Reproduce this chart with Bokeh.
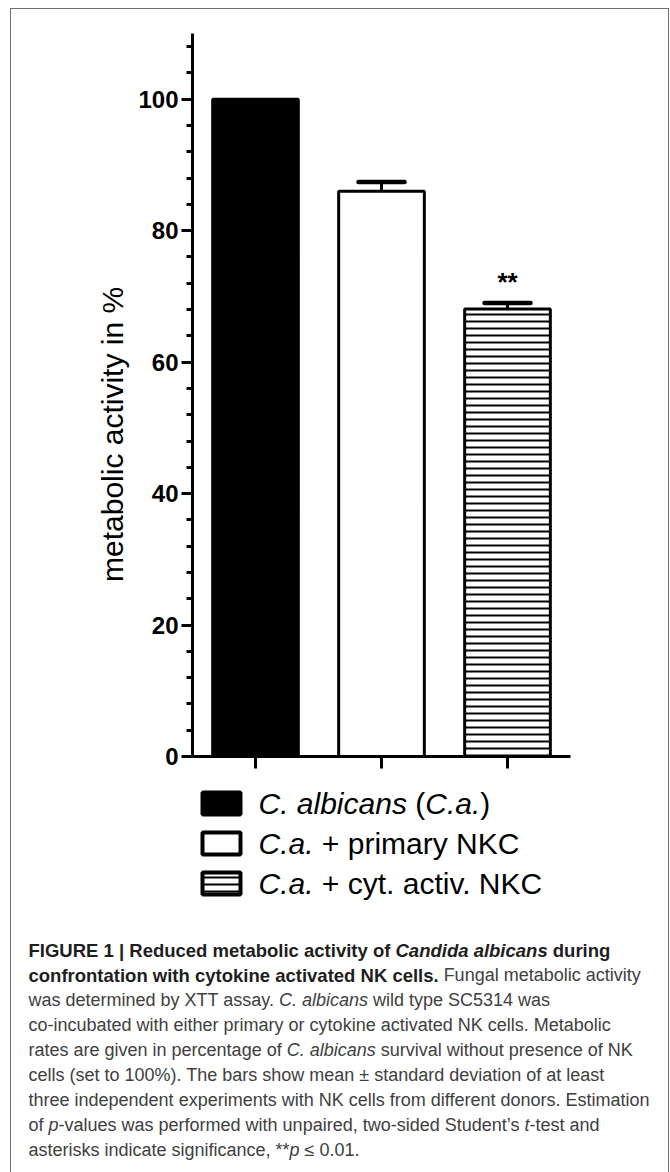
import glob
import math
import os

from bokeh.core.properties import value
from bokeh.embed import file_html
from bokeh.layouts import column, row
from bokeh.models import (ColumnDataSource, FixedTicker, Range1d,
                          SingleIntervalTicker, TeeHead, Whisker)
from bokeh.plotting import figure
from bokeh.resources import INLINE

# ---------------- data ----------------
categories = ["C. albicans (C.a.)", "C.a. + primary NKC", "C.a. + cyt. activ. NKC"]
means = [100.0, 86.0, 68.1]
sds = [0.0, 1.4, 0.9]
significance = ["", "", "**"]
y_tick_step = 20
y_max = 110
y_label = "metabolic activity in %"
y_label_center = 49

# legend labels split into (text, style) runs, following the categories
legend_runs = [
    [("C. albicans", "italic"), (" (", "normal"), ("C.a.", "italic"), (")", "normal")],
    [("C.a.", "italic"), (" + primary NKC", "normal")],
    [("C.a.", "italic"), (" + cyt. activ. NKC", "normal")],
]

caption_runs = [
    [("FIGURE 1 | Reduced metabolic activity of ", "bold"), ("Candida albicans", "bold italic"), (" during", "bold")],
    [("confrontation with cytokine activated NK cells.", "bold"), (" Fungal metabolic activity", "normal")],
    [("was determined by XTT assay. ", "normal"), ("C. albicans", "italic"), (" wild type SC5314 was", "normal")],
    [("co-incubated with either primary or cytokine activated NK cells. Metabolic", "normal")],
    [("rates are given in percentage of ", "normal"), ("C. albicans", "italic"), (" survival without presence of NK", "normal")],
    [("cells (set to 100%). The bars show mean \u00b1 standard deviation of at least", "normal")],
    [("three independent experiments with NK cells from different donors. Estimation", "normal")],
    [("of ", "normal"), ("p", "italic"), ("-values was performed with unpaired, two-sided Student\u2019s ", "normal"),
     ("t", "italic"), ("-test and", "normal")],
    [("asterisks indicate significance, **", "normal"), ("p", "italic"), (" \u2264 0.01.", "normal")],
]

# ---------------- styles ----------------
FONT = "Liberation Sans"
bar_fills = ["black", "white", "white"]
bar_hatches = [" ", " ", "-"]
HATCH_SCALE = 7
HATCH_WEIGHT = 2
BASELINE_FIX = 0.4   # empirical: svg text sits ~0.4 em below the requested baseline

# ---------------- text measuring helper ----------------
_FONT_FILES = {
    "normal": "LiberationSans-Regular.ttf",
    "italic": "LiberationSans-Italic.ttf",
    "bold": "LiberationSans-Bold.ttf",
    "bold italic": "LiberationSans-BoldItalic.ttf",
}
_font_cache = {}


def _load(style):
    if style in _font_cache:
        return _font_cache[style]
    f = None
    try:
        from PIL import ImageFont
        for root in ("/usr/share/fonts", "/usr/local/share/fonts", os.path.expanduser("~/.fonts")):
            hits = glob.glob(os.path.join(root, "**", _FONT_FILES[style]), recursive=True)
            if hits:
                f = ImageFont.truetype(hits[0], 100)
                break
    except Exception:
        f = None
    _font_cache[style] = f
    return f


def text_width(s, style, size):
    f = _load(style)
    if f is not None:
        try:
            return f.getlength(s) * size / 100.0
        except Exception:
            pass
    return len(s) * size * (0.56 if "bold" in style else 0.5)


def no_align(fig):
    try:
        fig.frame_align = False
    except Exception:
        pass


def layout_runs(runs, x0, y, size_of, color_of, out):
    """Place styled runs one after another; leading blanks become an x advance
    (SVG text drops leading white space)."""
    x = x0
    for s, st in runs:
        size = size_of(st)
        stripped = s.lstrip(" ")
        lead = len(s) - len(stripped)
        if lead:
            x += text_width(" " * lead, st, size)
        if stripped:
            out["x"].append(x); out["y"].append(y - BASELINE_FIX * size); out["text"].append(stripped)
            out["style"].append(st); out["size"].append(f"{size}px"); out["color"].append(color_of(st))
        x += text_width(stripped, st, size)


# ---------------- sizes ----------------
W = 657          # inner width of the framed figure
RW = 124         # strip holding the y-axis title
H_TOP = 773
H_BOT = 390

# ---------------- y-axis title strip ----------------
r = figure(width=RW, height=H_TOP, x_range=Range1d(0, RW), y_range=Range1d(H_TOP, 0),
           output_backend="svg", toolbar_location=None, min_border=0,
           x_axis_type=None, y_axis_type=None)
r.outline_line_color = None
r.grid.visible = False
r.border_fill_color = "white"
no_align(r)

# ---------------- chart figure ----------------
xs = [i + 1 for i in range(len(categories))]

p = figure(width=W - RW, height=H_TOP, x_range=Range1d(0.5, len(categories) + 0.5),
           y_range=Range1d(0, y_max), output_backend="svg", toolbar_location=None,
           min_border_left=55, min_border_right=98, min_border_top=24, min_border_bottom=26)
p.outline_line_color = None
p.xgrid.visible = False
p.ygrid.visible = False
p.background_fill_color = "white"
p.border_fill_color = "white"
no_align(p)

bar_src = ColumnDataSource(dict(x=xs, top=means, fill=bar_fills, hatch=bar_hatches, name=categories))
p.vbar(x="x", top="top", width=0.68, source=bar_src, fill_color="fill", line_color="black",
       line_width=3, hatch_pattern="hatch", hatch_scale=HATCH_SCALE, hatch_weight=HATCH_WEIGHT,
       hatch_color="black")

err_idx = [i for i, s in enumerate(sds) if s > 0]
err_src = ColumnDataSource(dict(x=[xs[i] for i in err_idx],
                                lower=[means[i] for i in err_idx],
                                upper=[means[i] + sds[i] for i in err_idx]))
p.add_layout(Whisker(source=err_src, base="x", lower="lower", upper="upper", dimension="height",
                     line_color="black", line_width=3, lower_head=None,
                     upper_head=TeeHead(size=46, line_width=4.5, line_color="black", line_cap="round")))

SIG_SIZE = 26
frame_h_px = H_TOP - 24 - 26
px_per_unit = frame_h_px / y_max
sig_idx = [i for i, s in enumerate(significance) if s]
sig_src = ColumnDataSource(dict(x=[xs[i] for i in sig_idx],
                                y=[means[i] + sds[i] + (10.5 + BASELINE_FIX * SIG_SIZE) / px_per_unit
                                   for i in sig_idx],
                                t=[significance[i] for i in sig_idx]))
p.text(x="x", y="y", text="t", source=sig_src, text_font=value(FONT), text_font_style="bold",
       text_font_size=value(f"{SIG_SIZE}px"), text_align="center", text_baseline="alphabetic",
       text_color="black")

# y axis
ya = p.yaxis[0]
ya.ticker = SingleIntervalTicker(interval=y_tick_step, num_minor_ticks=5)
ya.axis_line_width = 3
ya.axis_line_color = "black"
ya.major_tick_line_width = 3
ya.minor_tick_line_width = 3
ya.major_tick_in = 0
ya.major_tick_out = 11
ya.minor_tick_in = 0
ya.minor_tick_out = 6
ya.major_label_text_font = FONT
ya.major_label_text_font_style = "bold"
ya.major_label_text_font_size = "24px"
ya.major_label_text_color = "black"
ya.major_label_standoff = 3

# x axis
xa = p.xaxis[0]
xa.ticker = FixedTicker(ticks=xs, minor_ticks=[])
xa.major_label_overrides = {x: "" for x in xs}
xa.axis_line_width = 3
xa.axis_line_color = "black"
xa.major_tick_line_width = 3
xa.major_tick_in = 0
xa.major_tick_out = 12
xa.minor_tick_line_color = None

# y-axis title, centred on the chart's data value y_label_center (mapped to the strip's pixels)
frame_top_px = 24
label_y_px = frame_top_px + frame_h_px * (1 - y_label_center / y_max)
r.text(x=[101], y=[label_y_px], text=[y_label], angle=math.pi / 2, text_font=value(FONT),
       text_font_size=value("30px"), text_align="center", text_baseline="alphabetic",
       text_color="black")

# ---------------- legend + caption figure ----------------
q = figure(width=W, height=H_BOT, x_range=Range1d(0, W), y_range=Range1d(H_BOT, 0),
           output_backend="svg", toolbar_location=None, min_border=0,
           x_axis_type=None, y_axis_type=None)
q.outline_line_color = None
q.grid.visible = False
q.background_fill_color = "white"
q.border_fill_color = "white"
no_align(q)

LEG_X0 = 210
LEG_TEXT_X = 247
LEG_BASE0 = 33
LEG_STEP = 40
LEG_SIZE = 30

sw_src = ColumnDataSource(dict(x=[LEG_X0] * len(categories),
                               y=[LEG_BASE0 + i * LEG_STEP - 12 for i in range(len(categories))],
                               fill=bar_fills, hatch=bar_hatches))
q.rect(x="x", y="y", width=38, height=22, source=sw_src, fill_color="fill", line_color="black",
       line_width=4, hatch_pattern="hatch", hatch_scale=HATCH_SCALE, hatch_weight=HATCH_WEIGHT,
       hatch_color="black")

runs_out = dict(x=[], y=[], text=[], style=[], size=[], color=[])
for i, runs in enumerate(legend_runs):
    layout_runs(runs, LEG_TEXT_X, LEG_BASE0 + i * LEG_STEP, lambda st: LEG_SIZE,
                lambda st: "black", runs_out)

CAP_X = 17
CAP_BASE0 = 175
CAP_STEP = 25
for i, runs in enumerate(caption_runs):
    layout_runs(runs, CAP_X, CAP_BASE0 + i * CAP_STEP,
                lambda st: 18.5 if "bold" in st else 18,
                lambda st: "#1e1e1e" if "bold" in st else "#404040", runs_out)

txt_src = ColumnDataSource(runs_out)
q.text(x="x", y="y", text="text", source=txt_src, text_font=value(FONT), text_font_style="style",
       text_font_size="size", text_color="color", text_align="left", text_baseline="alphabetic")

# ---------------- layout with thin grey frame ----------------
r.margin = (0, 0, 0, 0)
p.margin = (0, 0, 0, 0)
q.margin = (0, 0, 0, 0)
top = row(r, p, spacing=0, styles={"background-color": "white"})
inner = column(top, q, spacing=0, styles={"background-color": "white"})
inner.margin = (1, 1, 0, 1)
layout = column(inner, spacing=0, styles={"background-color": "#707070"})
layout.margin = (8, 0, 0, 10)

open("out.html", "w").write(file_html(layout, INLINE))
